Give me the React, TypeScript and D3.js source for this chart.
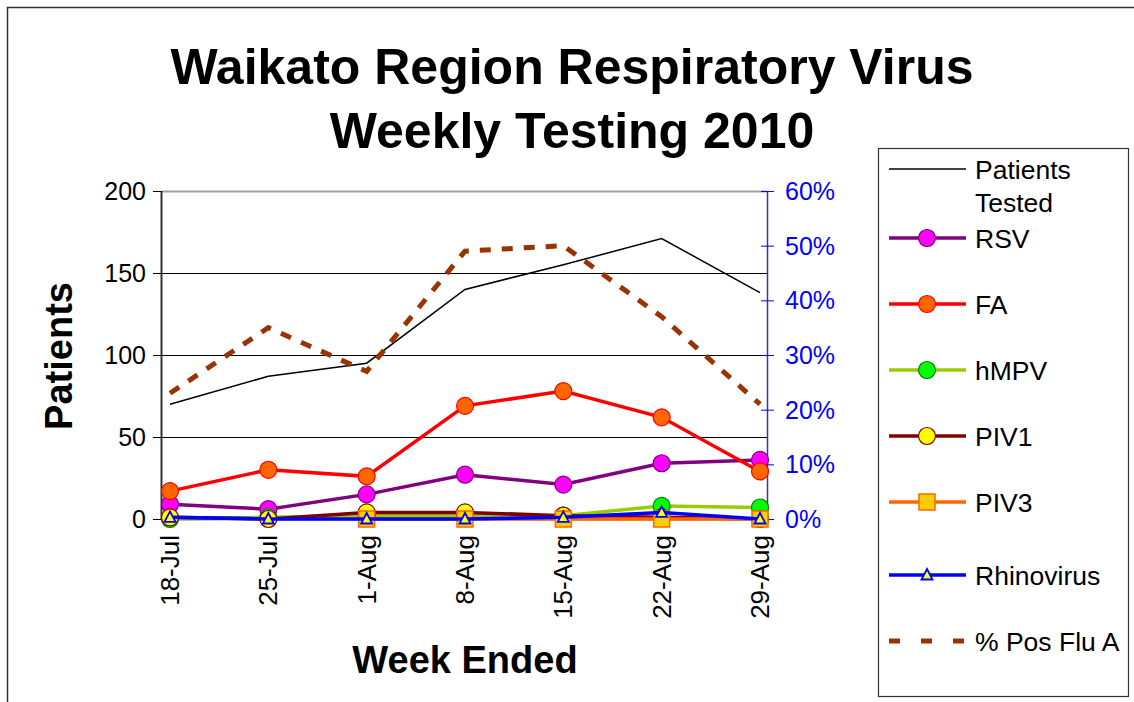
import React from "react";
import * as d3 from "d3";

const weeks = ["18-Jul", "25-Jul", "1-Aug", "8-Aug", "15-Aug", "22-Aug", "29-Aug"];

const patientsTested = [70, 87, 95, 140, 155, 171, 138];
const rsv = [9, 6, 15, 27, 21, 34, 36];
const fa = [17, 30, 26, 69, 78, 62, 29];
const hmpv = [0, 1, 2, 2, 2, 8, 7];
const piv1 = [1, 0, 4, 4, 2, 1, 0];
const piv3: (number | null)[] = [null, null, 0, 0, 0, 0, 0];
const rhinovirus = [1, 0, 0, 0, 1, 4, 0];
const posFluA = [0.23, 0.35, 0.27, 0.49, 0.5, 0.37, 0.21];

const leftTicks = [0, 50, 100, 150, 200];
const rightTicks = [0, 0.1, 0.2, 0.3, 0.4, 0.5, 0.6];

const FONT = "Liberation Sans, Arial, sans-serif";

type Marker = "none" | "circle" | "square" | "triangle";

interface Series {
  name: string;
  values: (number | null)[];
  line: string;
  width: number;
  marker: Marker;
  fill?: string;
  stroke?: string;
}

const series: Series[] = [
  { name: "Patients Tested", values: patientsTested, line: "#000000", width: 1.5, marker: "none" },
  { name: "RSV", values: rsv, line: "#800080", width: 3.5, marker: "circle", fill: "#ff00ff", stroke: "#800080" },
  { name: "FA", values: fa, line: "#ff0000", width: 3.5, marker: "circle", fill: "#ff6600", stroke: "#ff0000" },
  { name: "hMPV", values: hmpv, line: "#99cc00", width: 3.5, marker: "circle", fill: "#00ff00", stroke: "#008000" },
  { name: "PIV1", values: piv1, line: "#800000", width: 3.5, marker: "circle", fill: "#ffff00", stroke: "#800000" },
  { name: "PIV3", values: piv3, line: "#ff6600", width: 3.5, marker: "square", fill: "#ffcc00", stroke: "#ff6600" },
  { name: "Rhinovirus", values: rhinovirus, line: "#0000ff", width: 3.5, marker: "triangle", fill: "#ffff00", stroke: "#0000ff" },
];

function MarkerShape({ kind, x, y, fill, stroke }: { kind: Marker; x: number; y: number; fill?: string; stroke?: string }) {
  if (kind === "circle") return <circle cx={x} cy={y} r={8.5} fill={fill} stroke={stroke} strokeWidth={1.2} />;
  if (kind === "square") return <rect x={x - 8} y={y - 8} width={16} height={16} fill={fill} stroke={stroke} strokeWidth={1.5} />;
  if (kind === "triangle")
    return (
      <path
        d={`M${x},${y - 6} L${x + 5.5},${y + 4.5} L${x - 5.5},${y + 4.5} Z`}
        fill={fill}
        stroke={stroke}
        strokeWidth={1.8}
      />
    );
  return null;
}

export default function App() {
  const left = 162;
  const right = 767;
  const top = 191;
  const bottom = 519;

  const x = d3.scalePoint<string>().domain(weeks).range([170, 760]);
  const y = d3.scaleLinear().domain([0, 200]).range([bottom, top]);
  const y2 = d3.scaleLinear().domain([0, 0.6]).range([bottom, top]);

  const line = d3
    .line<number | null>()
    .defined((d) => d !== null)
    .x((_, i) => x(weeks[i])!)
    .y((d) => y(d as number));

  const fluLine = d3
    .line<number>()
    .x((_, i) => x(weeks[i])!)
    .y((d) => y2(d));

  const legendRows = [
    { s: series[0], cy: 169 },
    { s: series[1], cy: 238 },
    { s: series[2], cy: 304 },
    { s: series[3], cy: 370 },
    { s: series[4], cy: 436 },
    { s: series[5], cy: 502 },
    { s: series[6], cy: 575 },
  ];

  return (
    <svg width={1134} height={702} style={{ position: "absolute", left: 0, top: 0 }} fontFamily={FONT}>
      <rect x={0} y={0} width={1134} height={702} fill="#ffffff" />
      {/* chart border */}
      <path d="M7.5,702 L7.5,7.5 L1134,7.5" fill="none" stroke="#333" strokeWidth={1.5} />

      {/* title */}
      <text x={572} y={84} textAnchor="middle" fontSize={50} fontWeight="bold">
        Waikato Region Respiratory Virus
      </text>
      <text x={572} y={148} textAnchor="middle" fontSize={50} fontWeight="bold">
        Weekly Testing 2010
      </text>

      {/* gridlines */}
      {leftTicks.map((t) => (
        <line
          key={t}
          x1={left}
          x2={right}
          y1={y(t) + 0.5}
          y2={y(t) + 0.5}
          stroke={t === 200 ? "#a0a0a0" : "#000"}
          strokeWidth={t === 200 ? 2 : 1}
        />
      ))}

      {/* left axis */}
      <line x1={left - 0.5} x2={left - 0.5} y1={top} y2={bottom + 1} stroke="#333" strokeWidth={2} />
      {leftTicks.map((t) => (
        <g key={t}>
          <line x1={left - 9} x2={left} y1={y(t) + 0.5} y2={y(t) + 0.5} stroke="#000" strokeWidth={1} />
          <text x={146} y={y(t)} dy="0.36em" textAnchor="end" fontSize={25}>
            {t}
          </text>
        </g>
      ))}
      <line x1={left} x2={right} y1={bottom + 0.5} y2={bottom + 0.5} stroke="#333" strokeWidth={1.5} />

      {/* right axis */}
      <line x1={right + 0.5} x2={right + 0.5} y1={top} y2={bottom} stroke="#3333cc" strokeWidth={1.5} />
      {rightTicks.map((t) => (
        <g key={t}>
          <line x1={right - 6} x2={right + 7} y1={y2(t) + 0.5} y2={y2(t) + 0.5} stroke="#0000ff" strokeWidth={1} />
          <text x={785} y={y2(t)} dy="0.36em" fontSize={25} fill="#0000ff">
            {d3.format(".0%")(t)}
          </text>
        </g>
      ))}

      {/* x labels */}
      {weeks.map((w) => (
        <text
          key={w}
          transform={`translate(${x(w)! + 9},535) rotate(-90)`}
          textAnchor="end"
          fontSize={26}
        >
          {w}
        </text>
      ))}

      {/* axis titles */}
      <text transform="translate(72,356) rotate(-90)" textAnchor="middle" fontSize={38} fontWeight="bold">
        Patients
      </text>
      <text x={465} y={673} textAnchor="middle" fontSize={38} fontWeight="bold">
        Week Ended
      </text>

      {/* series */}
      {series.map((s) => (
        <g key={s.name}>
          <path d={line(s.values) || ""} fill="none" stroke={s.line} strokeWidth={s.width} />
          {s.values.map((v, i) =>
            v === null ? null : (
              <MarkerShape key={i} kind={s.marker} x={x(weeks[i])!} y={y(v)} fill={s.fill} stroke={s.stroke} />
            )
          )}
        </g>
      ))}
      <path d={fluLine(posFluA) || ""} fill="none" stroke="#993300" strokeWidth={5} strokeDasharray="11,11" />

      {/* legend */}
      <rect x={878.5} y={148.5} width={250} height={548} fill="#fff" stroke="#333" strokeWidth={1.2} />
      {legendRows.map(({ s, cy }) => (
        <g key={s.name}>
          <line x1={889} x2={966} y1={cy} y2={cy} stroke={s.line} strokeWidth={s.width} />
          <MarkerShape kind={s.marker} x={927} y={cy} fill={s.fill} stroke={s.stroke} />
        </g>
      ))}
      <line x1={889} x2={966} y1={641} y2={641} stroke="#993300" strokeWidth={5} strokeDasharray="11,21" />
      {[
        ["Patients", 169],
        ["Tested", 202],
        ["RSV", 238],
        ["FA", 304],
        ["hMPV", 370],
        ["PIV1", 436],
        ["PIV3", 502],
        ["Rhinovirus", 575],
        ["% Pos Flu A", 641],
      ].map(([t, cy]) => (
        <text key={t as string} x={975} y={cy as number} dy="0.36em" fontSize={26.5}>
          {t}
        </text>
      ))}
    </svg>
  );
}
